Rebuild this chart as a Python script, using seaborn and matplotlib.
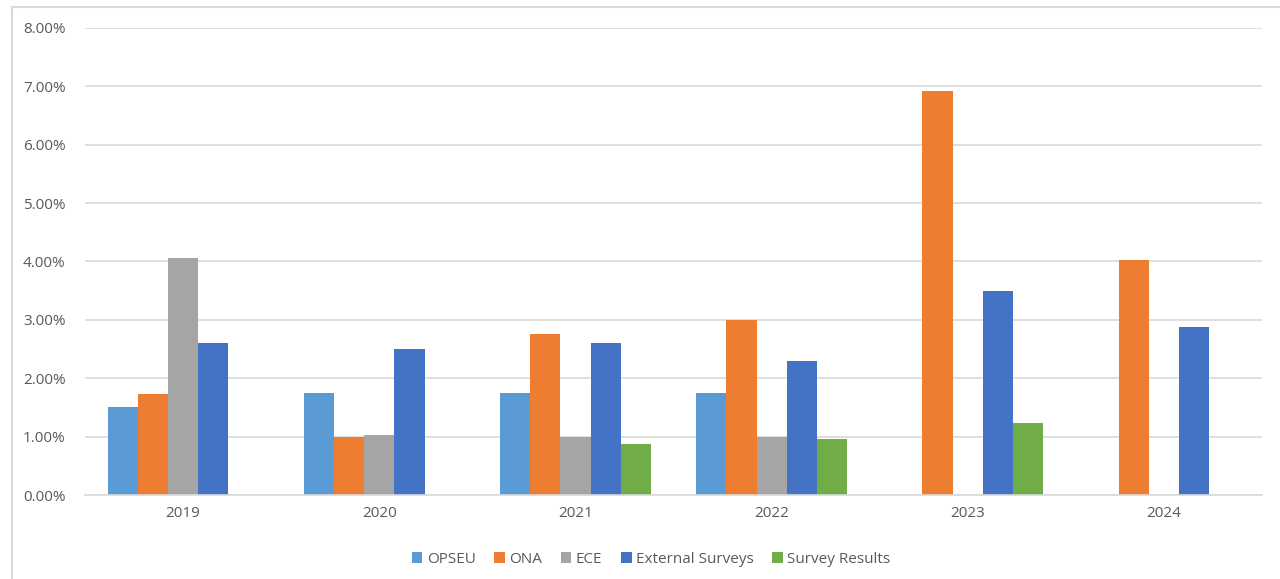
import numpy as np
import pandas as pd
import seaborn as sns
import matplotlib.pyplot as plt
from matplotlib.patches import Rectangle
from matplotlib.ticker import PercentFormatter

years = ["2019", "2020", "2021", "2022", "2023", "2024"]
opseu = [1.50, 1.75, 1.75, 1.75, np.nan, np.nan]
ona = [1.73, 1.00, 2.75, 3.00, 6.92, 4.02]
ece = [4.05, 1.02, 1.00, 1.00, np.nan, np.nan]
external = [2.60, 2.50, 2.60, 2.30, 3.50, 2.88]
survey = [np.nan, np.nan, 0.87, 0.96, 1.23, np.nan]

series = ["OPSEU", "ONA", "ECE", "External Surveys", "Survey Results"]
colors = ["#5B9BD5", "#ED7D31", "#A5A5A5", "#4472C4", "#70AD47"]

df = pd.DataFrame({"year": years, "OPSEU": opseu, "ONA": ona, "ECE": ece,
                   "External Surveys": external, "Survey Results": survey})
df = df.melt(id_vars="year", var_name="series", value_name="value")

sns.set_style("white")
plt.rcParams['font.family'] = ['Open Sans', 'DejaVu Sans']

fig = plt.figure(figsize=(12.8, 5.79), dpi=100)
ax = fig.add_axes([0.0664, 0.145, 0.9196, 0.807])
fig.patches.append(Rectangle((12 / 1280, -0.1), 1.2, 1 - 7 / 579 + 0.1,
                             transform=fig.transFigure, fill=False,
                             edgecolor="#d9d9d9", linewidth=1.5))

sns.barplot(data=df, x="year", y="value", hue="series", hue_order=series,
            palette=colors, width=0.77, saturation=1, linewidth=0, ax=ax, legend=True)

ax.set_ylim(0, 8)
ax.set_yticks(np.arange(0, 9, 1))
ax.yaxis.set_major_formatter(PercentFormatter(decimals=2))
ax.grid(axis="y", color="#d9d9d9", linewidth=1.2)
ax.set_axisbelow(True)
for s in ["top", "right", "left"]:
    ax.spines[s].set_visible(False)
ax.spines["bottom"].set_color("#d9d9d9")
ax.spines["bottom"].set_linewidth(1.2)
ax.tick_params(axis="both", length=0, labelsize=11, labelcolor="#595959", pad=8)
ax.tick_params(axis="y", pad=14)
ax.set_xlabel("")
ax.set_ylabel("")

leg = ax.legend(loc="center", bbox_to_anchor=(0.481, -0.138), ncol=5,
                frameon=False, fontsize=11, handlelength=0.7, handleheight=0.7,
                handletextpad=0.3, columnspacing=1.2)
for t in leg.get_texts():
    t.set_color("#595959")

fig.savefig("out.png", dpi=100)
